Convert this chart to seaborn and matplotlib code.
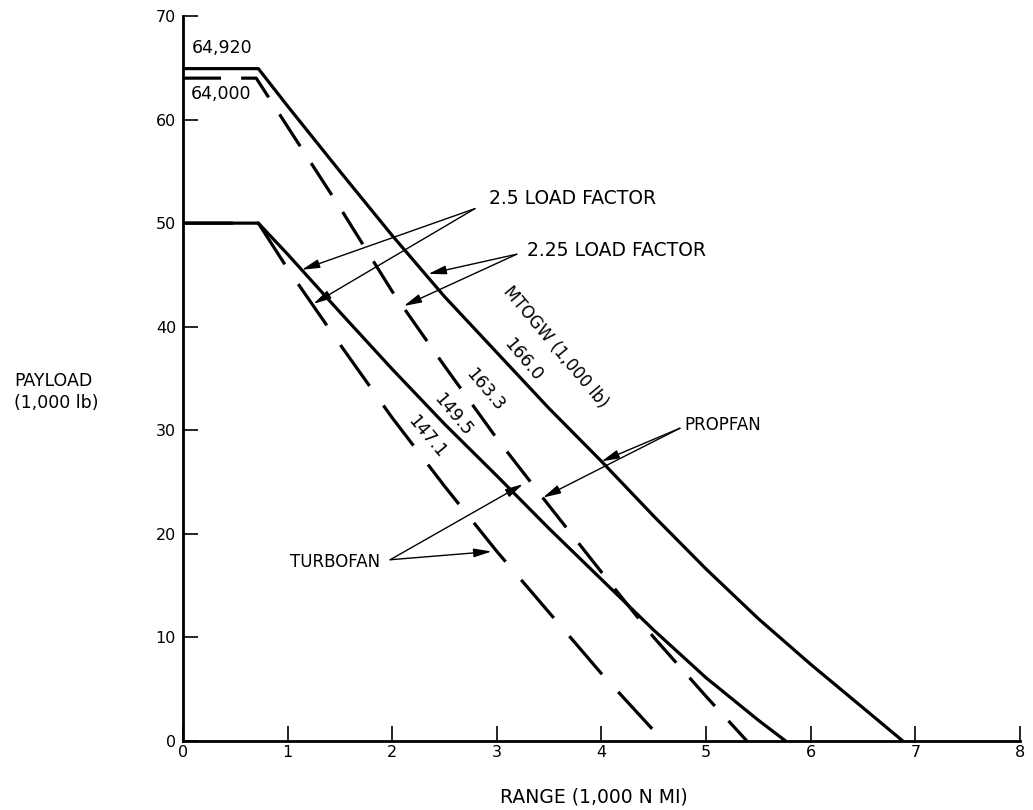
import matplotlib
matplotlib.use("Agg")
import matplotlib.pyplot as plt
import seaborn as sns
import pandas as pd

# ---------------- data ----------------
range_pf25 = [0, 0.72, 1.0, 1.5, 2.0, 2.5, 3.0, 3.5, 4.0, 4.5, 5.0, 5.5, 6.0, 6.5, 6.88]
payload_pf25 = [64.92, 64.92, 61.3, 55.0, 48.8, 42.9, 37.5, 32.1, 27.0, 21.7, 16.6, 11.8, 7.4, 3.2, 0]

range_pf225 = [0, 0.70, 1.0, 1.5, 2.0, 2.5, 3.0, 3.5, 4.0, 4.5, 5.0, 5.39]
payload_pf225 = [64.0, 64.0, 59.3, 51.5, 43.4, 36.2, 29.2, 22.7, 16.3, 10.0, 4.3, 0]

range_tf25 = [0, 0.72, 1.0, 1.5, 2.0, 2.5, 3.0, 3.5, 4.0, 4.5, 5.0, 5.5, 5.76]
payload_tf25 = [50, 50, 47.0, 41.4, 35.9, 30.6, 25.6, 20.5, 15.6, 10.7, 6.1, 2.0, 0]

range_tf225 = [0, 0.72, 1.0, 1.5, 2.0, 2.5, 3.0, 3.5, 4.0, 4.5, 4.58]
payload_tf225 = [50, 50, 45.6, 38.3, 31.2, 24.6, 18.3, 12.4, 6.5, 1.0, 0]

series_names = ["Propfan 2.5 LF", "Propfan 2.25 LF", "Turbofan 2.5 LF", "Turbofan 2.25 LF"]
mtogw_labels = ["166.0", "163.3", "149.5", "147.1"]
x_ticks = [0, 1, 2, 3, 4, 5, 6, 7, 8]
y_ticks = [0, 10, 20, 30, 40, 50, 60, 70]

frames = []
for name, xs, ys in zip(series_names,
                        [range_pf25, range_pf225, range_tf25, range_tf225],
                        [payload_pf25, payload_pf225, payload_tf25, payload_tf225]):
    frames.append(pd.DataFrame({"range": xs, "payload": ys, "series": name}))
df = pd.concat(frames, ignore_index=True)

# ---------------- figure ----------------
sns.set_theme(style="ticks")
plt.rcParams["font.family"] = ["DejaVu Sans"]
plt.rcParams["text.color"] = "black"
plt.rcParams["xtick.color"] = "black"
plt.rcParams["ytick.color"] = "black"

fig = plt.figure(figsize=(10.33, 8.10), dpi=100)
ax = fig.add_axes([0.17715, 0.08519, 0.81026, 0.89506])

palette = {n: "black" for n in series_names}
dashes = {
    "Propfan 2.5 LF": "",
    "Propfan 2.25 LF": (11.9, 6.3),
    "Turbofan 2.5 LF": "",
    "Turbofan 2.25 LF": (15.7, 7.5),
}
sns.lineplot(data=df, x="range", y="payload", hue="series", style="series",
             palette=palette, dashes=dashes, linewidth=2.3, sort=False,
             estimator=None, legend=False, ax=ax)

ax.set_xlim(0, 8)
ax.set_ylim(0, 70)
ax.set_xticks(x_ticks)
ax.set_yticks(y_ticks)
ax.set_xticklabels([str(v) for v in x_ticks])
ax.set_yticklabels([str(v) for v in y_ticks])
ax.set_xlabel("")
ax.set_ylabel("")
for s in ["top", "right"]:
    ax.spines[s].set_visible(False)
for s in ["left", "bottom"]:
    ax.spines[s].set_color("black")
    ax.spines[s].set_linewidth(2.0)
ax.tick_params(axis="both", direction="in", length=11, width=1.2, color="black",
               labelsize=11.5, labelcolor="black")
ax.tick_params(axis="x", pad=3)
ax.tick_params(axis="y", pad=5)

# axis titles
fig.text(594 / 1033, 1 - 797 / 810, "RANGE (1,000 N MI)", ha="center", va="center",
         fontsize=13.5, color="black")
fig.text(14 / 1033, 1 - 392 / 810, "PAYLOAD\n(1,000 lb)", ha="left", va="center",
         fontsize=12.5, color="black", linespacing=1.35)

# plateau values
ax.text(0.086, 66.9, "64,920", ha="left", va="center", fontsize=12.5, color="black")
ax.text(0.07, 62.5, "64,000", ha="left", va="center", fontsize=12.5, color="black")

# MTOGW labels along the curves
label_pos = [(3.253, 36.8), (2.887, 33.9), (2.584, 31.5), (2.33, 29.4)]
for (lx, ly), txt in zip(label_pos, mtogw_labels):
    ax.text(lx, ly, txt, rotation=-50, rotation_mode="anchor", ha="center",
            va="center", fontsize=12.5, color="black")
ax.text(3.56, 38.0, "MTOGW (1,000 lb)", rotation=-50, rotation_mode="anchor",
        ha="center", va="center", fontsize=12, color="black")

# callouts with arrows
arrow = dict(arrowstyle="-|>,head_length=0.9,head_width=0.22", color="black",
             lw=1.0, shrinkA=0, shrinkB=0)

ax.text(2.92, 52.4, "2.5 LOAD FACTOR", ha="left", va="center", fontsize=13.5, color="black")
for tip in [(1.135, 45.5), (1.246, 42.2)]:
    ax.annotate("", xy=tip, xytext=(2.79, 51.4), arrowprops=arrow)

ax.text(3.29, 47.4, "2.25 LOAD FACTOR", ha="left", va="center", fontsize=13.5, color="black")
for tip in [(2.345, 45.1), (2.11, 42.0)]:
    ax.annotate("", xy=tip, xytext=(3.19, 47.0), arrowprops=arrow)

ax.text(4.79, 30.5, "PROPFAN", ha="left", va="center", fontsize=12, color="black")
for tip in [(4.0, 27.0), (3.44, 23.5)]:
    ax.annotate("", xy=tip, xytext=(4.75, 30.2), arrowprops=arrow)

ax.text(1.02, 17.3, "TURBOFAN", ha="left", va="center", fontsize=12, color="black")
for tip in [(3.25, 24.8), (2.95, 18.3)]:
    ax.annotate("", xy=tip, xytext=(1.98, 17.5), arrowprops=arrow)

fig.savefig("out.png", dpi=100, facecolor="white")
